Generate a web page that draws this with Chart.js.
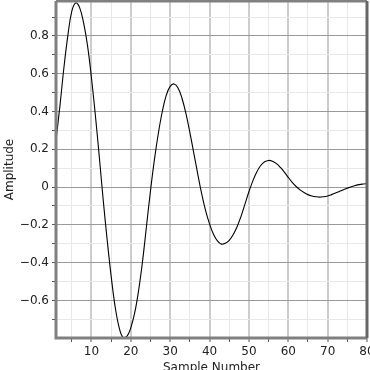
<!DOCTYPE html>
<html>
<head>
<meta charset="utf-8">
<script src="https://cdn.jsdelivr.net/npm/chart.js@4/dist/chart.umd.min.js"></script>
<style>
  html, body { margin: 0; padding: 0; background: #fff; }
</style>
</head>
<body>
<canvas id="myChart" width="370" height="370"></canvas>
<script>
// sample numbers and amplitude
var sampleNumbers = [1, 2, 3, 4, 5, 6, 7, 8, 9, 10,
  11, 12, 13, 14, 15, 16, 17, 18, 19, 20,
  21, 22, 23, 24, 25, 26, 27, 28, 29, 30,
  31, 32, 33, 34, 35, 36, 37, 38, 39, 40,
  41, 42, 43, 44, 45, 46, 47, 48, 49, 50,
  51, 52, 53, 54, 55, 56, 57, 58, 59, 60,
  61, 62, 63, 64, 65, 66, 67, 68, 69, 70,
  71, 72, 73, 74, 75, 76, 77, 78, 79, 80]
var amplitude = [0.25, 0.43, 0.63, 0.80, 0.93, 0.975, 0.95, 0.87, 0.75, 0.58,
  0.38, 0.16, -0.07, -0.28, -0.47, -0.63, -0.74, -0.795, -0.79, -0.745,
  -0.665, -0.545, -0.39, -0.205, -0.02, 0.145, 0.285, 0.4, 0.485, 0.533,
  0.546, 0.525, 0.47, 0.39, 0.29, 0.18, 0.07, -0.035, -0.125, -0.195,
  -0.25, -0.285, -0.302, -0.298, -0.282, -0.252, -0.21, -0.155, -0.09, -0.025,
  0.033, 0.08, 0.114, 0.134, 0.141, 0.137, 0.124, 0.104, 0.079, 0.051,
  0.025, 0.003, -0.015, -0.029, -0.04, -0.047, -0.051, -0.053, -0.051, -0.047,
  -0.04, -0.032, -0.023, -0.014, -0.006, 0.002, 0.008, 0.013, 0.016, 0.018]

// tick positions (major ones get labels)
var xTicks = [5, 10, 15, 20, 25, 30, 35, 40, 45, 50, 55, 60, 65, 70, 75, 80]
var xLabels = [10, 20, 30, 40, 50, 60, 70, 80]
var yTicks = [-0.7, -0.6, -0.5, -0.4, -0.3, -0.2, -0.1, 0, 0.1, 0.2, 0.3, 0.4, 0.5, 0.6, 0.7, 0.8, 0.9]
var yLabels = [-0.6, -0.4, -0.2, 0, 0.2, 0.4, 0.6, 0.8]

function isLabelled(list, v) {
  return list.some(function (l) { return Math.abs(l - v) < 1e-6 })
}

function fmt(v) {
  if (Math.abs(v) < 1e-9) return '0'
  return v.toFixed(1).replace('-', '\u2212')
}

var points = sampleNumbers.map(function (s, i) { return { x: s, y: amplitude[i] } })

// frame round the plot area
var framePlugin = {
  id: 'frame',
  afterDatasetsDraw: function (chart) {
    var a = chart.chartArea, c = chart.ctx
    c.save()
    c.lineWidth = 3
    c.strokeStyle = '#808080'
    c.beginPath()
    c.moveTo(a.left, a.top); c.lineTo(a.right, a.top)
    c.moveTo(a.left, a.top); c.lineTo(a.left, a.bottom); c.lineTo(a.right, a.bottom)
    c.stroke()
    c.strokeStyle = '#666'
    c.beginPath()
    c.moveTo(a.right, a.top); c.lineTo(a.right, a.bottom)
    c.stroke()
    c.restore()
  }
}

Chart.defaults.font.family = 'DejaVu Sans'
Chart.defaults.font.size = 11
Chart.defaults.color = '#222'

var ctx = document.getElementById('myChart').getContext('2d')
var myChart = new Chart(ctx, {
  type: 'line',
  data: {
    datasets: [{
      data: points,
      borderColor: '#000',
      borderWidth: 1.1,
      pointRadius: 0,
      fill: false,
      tension: 0.4
    }]
  },
  options: {
    responsive: false,
    animation: false,
    layout: { padding: { top: 1, right: 3, left: 0, bottom: 0 } },
    plugins: { legend: { display: false }, tooltip: { enabled: false } },
    scales: {
      x: {
        type: 'linear',
        min: 1,
        max: 80,
        afterBuildTicks: function (scale) {
          scale.ticks = xTicks.map(function (v) { return { value: v } })
        },
        afterFit: function (scale) {
          scale.height = 32
          scale.paddingLeft = 0
          scale.paddingRight = 0
        },
        border: { display: false },
        grid: {
          color: function (c) { return isLabelled(xLabels, c.tick.value) ? '#cccccc' : '#e8e8e8' },
          lineWidth: function (c) { return isLabelled(xLabels, c.tick.value) ? 2 : 1 },
          tickColor: '#555',
          tickWidth: 1,
          tickLength: 4
        },
        ticks: {
          padding: 3,
          maxRotation: 0,
          autoSkip: false,
          font: { size: 12 },
          callback: function (v) { return isLabelled(xLabels, v) ? String(v) : '' }
        },
        title: {
          display: true,
          text: 'Sample Number',
          font: { size: 12 },
          padding: { top: 0, bottom: -5 }
        }
      },
      y: {
        min: -0.799,
        max: 0.985,
        afterBuildTicks: function (scale) {
          scale.ticks = yTicks.map(function (v) { return { value: v } })
        },
        afterFit: function (scale) {
          scale.width = 56
          scale.paddingTop = 0
          scale.paddingBottom = 0
        },
        border: { display: false },
        grid: {
          color: function (c) { return isLabelled(yLabels, c.tick.value) ? '#9a9a9a' : '#e8e8e8' },
          lineWidth: 1,
          tickColor: '#555',
          tickLength: 4
        },
        ticks: {
          padding: 3,
          autoSkip: false,
          font: { size: 12 },
          callback: function (v) { return isLabelled(yLabels, v) ? fmt(v) : '' }
        },
        title: {
          display: true,
          text: 'Amplitude',
          font: { size: 12 },
          padding: { top: 3, bottom: 0 }
        }
      }
    }
  },
  plugins: [framePlugin]
})
</script>
</body>
</html>
